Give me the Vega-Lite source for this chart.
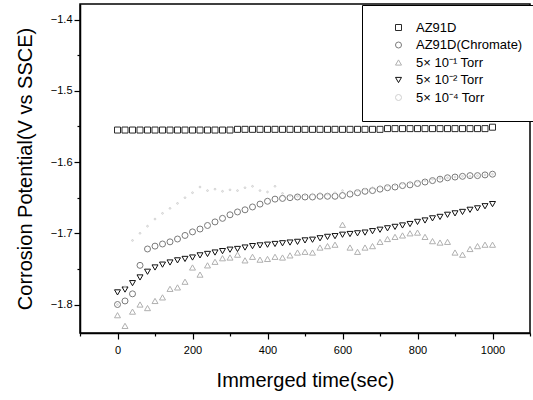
{
"$schema": "https://vega.github.io/schema/vega-lite/v6.json",
"width": 450, "height": 329,
"autosize": "none",
"padding": {"left": 80, "top": 4, "right": 3, "bottom": 67},
"background": "white",
"config": {"font": "Liberation Sans", "view": {"stroke": "black", "strokeWidth": 1.5},
  "legend": {"padding": 16, "rowPadding": 3.5, "symbolOffset": 14, "symbolSize": 36, "labelFontSize": 13, "labelColor": "black", "labelOffset": 11, "symbolStrokeWidth": 1, "strokeColor": "black", "fillColor": "white"}},
"data": {"values": [
{"s":"AZ91D","t":0,"v":-1.555},{"s":"AZ91D","t":20,"v":-1.555},{"s":"AZ91D","t":40,"v":-1.555},{"s":"AZ91D","t":60,"v":-1.555},{"s":"AZ91D","t":80,"v":-1.555},{"s":"AZ91D","t":100,"v":-1.555},{"s":"AZ91D","t":120,"v":-1.555},{"s":"AZ91D","t":140,"v":-1.555},{"s":"AZ91D","t":160,"v":-1.555},{"s":"AZ91D","t":180,"v":-1.555},{"s":"AZ91D","t":200,"v":-1.555},{"s":"AZ91D","t":220,"v":-1.555},{"s":"AZ91D","t":240,"v":-1.555},{"s":"AZ91D","t":260,"v":-1.555},{"s":"AZ91D","t":280,"v":-1.555},{"s":"AZ91D","t":300,"v":-1.555},{"s":"AZ91D","t":320,"v":-1.554},{"s":"AZ91D","t":340,"v":-1.554},{"s":"AZ91D","t":360,"v":-1.554},{"s":"AZ91D","t":380,"v":-1.554},{"s":"AZ91D","t":400,"v":-1.554},{"s":"AZ91D","t":420,"v":-1.554},{"s":"AZ91D","t":440,"v":-1.554},{"s":"AZ91D","t":460,"v":-1.554},{"s":"AZ91D","t":480,"v":-1.554},{"s":"AZ91D","t":500,"v":-1.554},{"s":"AZ91D","t":520,"v":-1.554},{"s":"AZ91D","t":540,"v":-1.554},{"s":"AZ91D","t":560,"v":-1.554},{"s":"AZ91D","t":580,"v":-1.554},{"s":"AZ91D","t":600,"v":-1.554},{"s":"AZ91D","t":620,"v":-1.554},{"s":"AZ91D","t":640,"v":-1.554},{"s":"AZ91D","t":660,"v":-1.554},{"s":"AZ91D","t":680,"v":-1.554},{"s":"AZ91D","t":700,"v":-1.554},{"s":"AZ91D","t":720,"v":-1.553},{"s":"AZ91D","t":740,"v":-1.553},{"s":"AZ91D","t":760,"v":-1.553},{"s":"AZ91D","t":780,"v":-1.553},{"s":"AZ91D","t":800,"v":-1.553},{"s":"AZ91D","t":820,"v":-1.553},{"s":"AZ91D","t":840,"v":-1.553},{"s":"AZ91D","t":860,"v":-1.553},{"s":"AZ91D","t":880,"v":-1.553},{"s":"AZ91D","t":900,"v":-1.553},{"s":"AZ91D","t":920,"v":-1.553},{"s":"AZ91D","t":940,"v":-1.553},{"s":"AZ91D","t":960,"v":-1.553},{"s":"AZ91D","t":980,"v":-1.553},{"s":"AZ91D","t":1000,"v":-1.551},
{"s":"AZ91D(Chromate)","t":0,"v":-1.8},{"s":"AZ91D(Chromate)","t":20,"v":-1.795},{"s":"AZ91D(Chromate)","t":40,"v":-1.785},{"s":"AZ91D(Chromate)","t":60,"v":-1.745},{"s":"AZ91D(Chromate)","t":80,"v":-1.722},{"s":"AZ91D(Chromate)","t":100,"v":-1.718},{"s":"AZ91D(Chromate)","t":120,"v":-1.715},{"s":"AZ91D(Chromate)","t":140,"v":-1.712},{"s":"AZ91D(Chromate)","t":160,"v":-1.708},{"s":"AZ91D(Chromate)","t":180,"v":-1.703},{"s":"AZ91D(Chromate)","t":200,"v":-1.698},{"s":"AZ91D(Chromate)","t":220,"v":-1.694},{"s":"AZ91D(Chromate)","t":240,"v":-1.689},{"s":"AZ91D(Chromate)","t":260,"v":-1.684},{"s":"AZ91D(Chromate)","t":280,"v":-1.679},{"s":"AZ91D(Chromate)","t":300,"v":-1.674},{"s":"AZ91D(Chromate)","t":320,"v":-1.67},{"s":"AZ91D(Chromate)","t":340,"v":-1.667},{"s":"AZ91D(Chromate)","t":360,"v":-1.663},{"s":"AZ91D(Chromate)","t":380,"v":-1.659},{"s":"AZ91D(Chromate)","t":400,"v":-1.655},{"s":"AZ91D(Chromate)","t":420,"v":-1.652},{"s":"AZ91D(Chromate)","t":440,"v":-1.651},{"s":"AZ91D(Chromate)","t":460,"v":-1.65},{"s":"AZ91D(Chromate)","t":480,"v":-1.649},{"s":"AZ91D(Chromate)","t":500,"v":-1.649},{"s":"AZ91D(Chromate)","t":520,"v":-1.649},{"s":"AZ91D(Chromate)","t":540,"v":-1.648},{"s":"AZ91D(Chromate)","t":560,"v":-1.648},{"s":"AZ91D(Chromate)","t":580,"v":-1.648},{"s":"AZ91D(Chromate)","t":600,"v":-1.647},{"s":"AZ91D(Chromate)","t":620,"v":-1.645},{"s":"AZ91D(Chromate)","t":640,"v":-1.643},{"s":"AZ91D(Chromate)","t":660,"v":-1.641},{"s":"AZ91D(Chromate)","t":680,"v":-1.64},{"s":"AZ91D(Chromate)","t":700,"v":-1.638},{"s":"AZ91D(Chromate)","t":720,"v":-1.636},{"s":"AZ91D(Chromate)","t":740,"v":-1.635},{"s":"AZ91D(Chromate)","t":760,"v":-1.633},{"s":"AZ91D(Chromate)","t":780,"v":-1.632},{"s":"AZ91D(Chromate)","t":800,"v":-1.63},{"s":"AZ91D(Chromate)","t":820,"v":-1.628},{"s":"AZ91D(Chromate)","t":840,"v":-1.626},{"s":"AZ91D(Chromate)","t":860,"v":-1.624},{"s":"AZ91D(Chromate)","t":880,"v":-1.622},{"s":"AZ91D(Chromate)","t":900,"v":-1.621},{"s":"AZ91D(Chromate)","t":920,"v":-1.62},{"s":"AZ91D(Chromate)","t":940,"v":-1.619},{"s":"AZ91D(Chromate)","t":960,"v":-1.619},{"s":"AZ91D(Chromate)","t":980,"v":-1.618},{"s":"AZ91D(Chromate)","t":1000,"v":-1.617},
{"s":"5× 10⁻¹ Torr","t":0,"v":-1.815},{"s":"5× 10⁻¹ Torr","t":20,"v":-1.83},{"s":"5× 10⁻¹ Torr","t":40,"v":-1.81},{"s":"5× 10⁻¹ Torr","t":60,"v":-1.8},{"s":"5× 10⁻¹ Torr","t":80,"v":-1.805},{"s":"5× 10⁻¹ Torr","t":100,"v":-1.795},{"s":"5× 10⁻¹ Torr","t":120,"v":-1.79},{"s":"5× 10⁻¹ Torr","t":140,"v":-1.778},{"s":"5× 10⁻¹ Torr","t":160,"v":-1.776},{"s":"5× 10⁻¹ Torr","t":180,"v":-1.768},{"s":"5× 10⁻¹ Torr","t":200,"v":-1.748},{"s":"5× 10⁻¹ Torr","t":220,"v":-1.758},{"s":"5× 10⁻¹ Torr","t":240,"v":-1.745},{"s":"5× 10⁻¹ Torr","t":260,"v":-1.74},{"s":"5× 10⁻¹ Torr","t":280,"v":-1.735},{"s":"5× 10⁻¹ Torr","t":300,"v":-1.734},{"s":"5× 10⁻¹ Torr","t":320,"v":-1.73},{"s":"5× 10⁻¹ Torr","t":340,"v":-1.738},{"s":"5× 10⁻¹ Torr","t":360,"v":-1.733},{"s":"5× 10⁻¹ Torr","t":380,"v":-1.737},{"s":"5× 10⁻¹ Torr","t":400,"v":-1.736},{"s":"5× 10⁻¹ Torr","t":420,"v":-1.733},{"s":"5× 10⁻¹ Torr","t":440,"v":-1.734},{"s":"5× 10⁻¹ Torr","t":460,"v":-1.731},{"s":"5× 10⁻¹ Torr","t":480,"v":-1.727},{"s":"5× 10⁻¹ Torr","t":500,"v":-1.726},{"s":"5× 10⁻¹ Torr","t":520,"v":-1.727},{"s":"5× 10⁻¹ Torr","t":540,"v":-1.72},{"s":"5× 10⁻¹ Torr","t":560,"v":-1.718},{"s":"5× 10⁻¹ Torr","t":580,"v":-1.716},{"s":"5× 10⁻¹ Torr","t":600,"v":-1.688},{"s":"5× 10⁻¹ Torr","t":620,"v":-1.72},{"s":"5× 10⁻¹ Torr","t":640,"v":-1.726},{"s":"5× 10⁻¹ Torr","t":660,"v":-1.72},{"s":"5× 10⁻¹ Torr","t":680,"v":-1.718},{"s":"5× 10⁻¹ Torr","t":700,"v":-1.712},{"s":"5× 10⁻¹ Torr","t":720,"v":-1.708},{"s":"5× 10⁻¹ Torr","t":740,"v":-1.705},{"s":"5× 10⁻¹ Torr","t":760,"v":-1.703},{"s":"5× 10⁻¹ Torr","t":780,"v":-1.7},{"s":"5× 10⁻¹ Torr","t":800,"v":-1.699},{"s":"5× 10⁻¹ Torr","t":820,"v":-1.705},{"s":"5× 10⁻¹ Torr","t":840,"v":-1.711},{"s":"5× 10⁻¹ Torr","t":860,"v":-1.713},{"s":"5× 10⁻¹ Torr","t":880,"v":-1.712},{"s":"5× 10⁻¹ Torr","t":900,"v":-1.727},{"s":"5× 10⁻¹ Torr","t":920,"v":-1.73},{"s":"5× 10⁻¹ Torr","t":940,"v":-1.722},{"s":"5× 10⁻¹ Torr","t":960,"v":-1.718},{"s":"5× 10⁻¹ Torr","t":980,"v":-1.716},{"s":"5× 10⁻¹ Torr","t":1000,"v":-1.716},
{"s":"5× 10⁻² Torr","t":0,"v":-1.783},{"s":"5× 10⁻² Torr","t":20,"v":-1.779},{"s":"5× 10⁻² Torr","t":40,"v":-1.77},{"s":"5× 10⁻² Torr","t":60,"v":-1.762},{"s":"5× 10⁻² Torr","t":80,"v":-1.754},{"s":"5× 10⁻² Torr","t":100,"v":-1.748},{"s":"5× 10⁻² Torr","t":120,"v":-1.744},{"s":"5× 10⁻² Torr","t":140,"v":-1.741},{"s":"5× 10⁻² Torr","t":160,"v":-1.738},{"s":"5× 10⁻² Torr","t":180,"v":-1.736},{"s":"5× 10⁻² Torr","t":200,"v":-1.734},{"s":"5× 10⁻² Torr","t":220,"v":-1.731},{"s":"5× 10⁻² Torr","t":240,"v":-1.729},{"s":"5× 10⁻² Torr","t":260,"v":-1.727},{"s":"5× 10⁻² Torr","t":280,"v":-1.725},{"s":"5× 10⁻² Torr","t":300,"v":-1.723},{"s":"5× 10⁻² Torr","t":320,"v":-1.722},{"s":"5× 10⁻² Torr","t":340,"v":-1.72},{"s":"5× 10⁻² Torr","t":360,"v":-1.718},{"s":"5× 10⁻² Torr","t":380,"v":-1.717},{"s":"5× 10⁻² Torr","t":400,"v":-1.716},{"s":"5× 10⁻² Torr","t":420,"v":-1.715},{"s":"5× 10⁻² Torr","t":440,"v":-1.714},{"s":"5× 10⁻² Torr","t":460,"v":-1.713},{"s":"5× 10⁻² Torr","t":480,"v":-1.712},{"s":"5× 10⁻² Torr","t":500,"v":-1.71},{"s":"5× 10⁻² Torr","t":520,"v":-1.709},{"s":"5× 10⁻² Torr","t":540,"v":-1.707},{"s":"5× 10⁻² Torr","t":560,"v":-1.705},{"s":"5× 10⁻² Torr","t":580,"v":-1.704},{"s":"5× 10⁻² Torr","t":600,"v":-1.702},{"s":"5× 10⁻² Torr","t":620,"v":-1.701},{"s":"5× 10⁻² Torr","t":640,"v":-1.7},{"s":"5× 10⁻² Torr","t":660,"v":-1.699},{"s":"5× 10⁻² Torr","t":680,"v":-1.697},{"s":"5× 10⁻² Torr","t":700,"v":-1.695},{"s":"5× 10⁻² Torr","t":720,"v":-1.693},{"s":"5× 10⁻² Torr","t":740,"v":-1.691},{"s":"5× 10⁻² Torr","t":760,"v":-1.689},{"s":"5× 10⁻² Torr","t":780,"v":-1.687},{"s":"5× 10⁻² Torr","t":800,"v":-1.684},{"s":"5× 10⁻² Torr","t":820,"v":-1.682},{"s":"5× 10⁻² Torr","t":840,"v":-1.679},{"s":"5× 10⁻² Torr","t":860,"v":-1.677},{"s":"5× 10⁻² Torr","t":880,"v":-1.674},{"s":"5× 10⁻² Torr","t":900,"v":-1.672},{"s":"5× 10⁻² Torr","t":920,"v":-1.67},{"s":"5× 10⁻² Torr","t":940,"v":-1.667},{"s":"5× 10⁻² Torr","t":960,"v":-1.665},{"s":"5× 10⁻² Torr","t":980,"v":-1.662},{"s":"5× 10⁻² Torr","t":1000,"v":-1.659},
{"s":"5× 10⁻⁴ Torr","t":0,"v":-1.8},{"s":"5× 10⁻⁴ Torr","t":20,"v":-1.775},{"s":"5× 10⁻⁴ Torr","t":40,"v":-1.71},{"s":"5× 10⁻⁴ Torr","t":60,"v":-1.7},{"s":"5× 10⁻⁴ Torr","t":80,"v":-1.69},{"s":"5× 10⁻⁴ Torr","t":100,"v":-1.68},{"s":"5× 10⁻⁴ Torr","t":120,"v":-1.672},{"s":"5× 10⁻⁴ Torr","t":140,"v":-1.665},{"s":"5× 10⁻⁴ Torr","t":160,"v":-1.658},{"s":"5× 10⁻⁴ Torr","t":180,"v":-1.65},{"s":"5× 10⁻⁴ Torr","t":200,"v":-1.643},{"s":"5× 10⁻⁴ Torr","t":220,"v":-1.635},{"s":"5× 10⁻⁴ Torr","t":240,"v":-1.64},{"s":"5× 10⁻⁴ Torr","t":260,"v":-1.638},{"s":"5× 10⁻⁴ Torr","t":280,"v":-1.641},{"s":"5× 10⁻⁴ Torr","t":300,"v":-1.639},{"s":"5× 10⁻⁴ Torr","t":320,"v":-1.64},{"s":"5× 10⁻⁴ Torr","t":340,"v":-1.636},{"s":"5× 10⁻⁴ Torr","t":360,"v":-1.634},{"s":"5× 10⁻⁴ Torr","t":380,"v":-1.64},{"s":"5× 10⁻⁴ Torr","t":400,"v":-1.642},{"s":"5× 10⁻⁴ Torr","t":420,"v":-1.634},{"s":"5× 10⁻⁴ Torr","t":440,"v":-1.644},{"s":"5× 10⁻⁴ Torr","t":460,"v":-1.647},{"s":"5× 10⁻⁴ Torr","t":480,"v":-1.648},{"s":"5× 10⁻⁴ Torr","t":500,"v":-1.646},{"s":"5× 10⁻⁴ Torr","t":520,"v":-1.645},{"s":"5× 10⁻⁴ Torr","t":540,"v":-1.644},{"s":"5× 10⁻⁴ Torr","t":560,"v":-1.645},{"s":"5× 10⁻⁴ Torr","t":580,"v":-1.643},{"s":"5× 10⁻⁴ Torr","t":600,"v":-1.64},{"s":"5× 10⁻⁴ Torr","t":620,"v":-1.641},{"s":"5× 10⁻⁴ Torr","t":640,"v":-1.64},{"s":"5× 10⁻⁴ Torr","t":660,"v":-1.638},{"s":"5× 10⁻⁴ Torr","t":680,"v":-1.636},{"s":"5× 10⁻⁴ Torr","t":700,"v":-1.634},{"s":"5× 10⁻⁴ Torr","t":720,"v":-1.633},{"s":"5× 10⁻⁴ Torr","t":740,"v":-1.632},{"s":"5× 10⁻⁴ Torr","t":760,"v":-1.63},{"s":"5× 10⁻⁴ Torr","t":780,"v":-1.629},{"s":"5× 10⁻⁴ Torr","t":800,"v":-1.627},{"s":"5× 10⁻⁴ Torr","t":820,"v":-1.626},{"s":"5× 10⁻⁴ Torr","t":840,"v":-1.624},{"s":"5× 10⁻⁴ Torr","t":860,"v":-1.623},{"s":"5× 10⁻⁴ Torr","t":880,"v":-1.622},{"s":"5× 10⁻⁴ Torr","t":900,"v":-1.621},{"s":"5× 10⁻⁴ Torr","t":920,"v":-1.62},{"s":"5× 10⁻⁴ Torr","t":940,"v":-1.62},{"s":"5× 10⁻⁴ Torr","t":960,"v":-1.619},{"s":"5× 10⁻⁴ Torr","t":980,"v":-1.618},{"s":"5× 10⁻⁴ Torr","t":1000,"v":-1.617}
]},
"encoding": {
  "x": {"field": "t", "type": "quantitative",
    "scale": {"domain": [-100, 1100], "nice": false, "zero": false},
    "axis": {"values": [-100,0,100,200,300,400,500,600,700,800,900,1000,1100], "format": "d",
      "labelExpr": "datum.value % 200 === 0 ? datum.label : ''",
      "tickSize": {"condition": {"test": "datum.value % 200 === 0", "value": 6}, "value": 3},
      "grid": false, "domainColor": "black", "domainWidth": 1.5, "tickColor": "black", "tickWidth": 1.2,
      "labelColor": "black", "labelFontSize": 11, "labelPadding": 5, "labelFlush": false,
      "title": "Immerged time(sec)", "titleFontSize": 20, "titleFontWeight": "normal", "titleColor": "black", "titlePadding": 15}},
  "y": {"field": "v", "type": "quantitative",
    "scale": {"domain": [-1.84, -1.378], "nice": false, "zero": false},
    "axis": {"values": [-1.8,-1.75,-1.7,-1.65,-1.6,-1.55,-1.5,-1.45,-1.4],
      "labelExpr": "abs(round(datum.value*100)) % 10 === 0 ? format(datum.value, '.1f') : ''",
      "tickSize": {"condition": {"test": "abs(round(datum.value*100)) % 10 === 0", "value": 6}, "value": 3},
      "grid": false, "domainColor": "black", "domainWidth": 1.5, "tickColor": "black", "tickWidth": 1.2,
      "labelColor": "black", "labelFontSize": 11, "labelPadding": 2, "labelFlush": false,
      "title": "Corrosion Potential(V vs SSCE)", "titleFontSize": 20, "titleFontWeight": "normal", "titleColor": "black", "titlePadding": 15}},
  "color": {"field": "s", "type": "nominal",
    "scale": {"domain": ["AZ91D", "AZ91D(Chromate)", "5× 10⁻¹ Torr", "5× 10⁻² Torr", "5× 10⁻⁴ Torr"],
      "range": ["#2a2a2a", "#7a7a7a", "#b0b0b0", "#111111", "#cfcfcf"]},
    "legend": {"title": null, "orient": "none", "legendX": 282, "legendY": 1}},
  "shape": {"field": "s", "type": "nominal",
    "scale": {"domain": ["AZ91D", "AZ91D(Chromate)", "5× 10⁻¹ Torr", "5× 10⁻² Torr", "5× 10⁻⁴ Torr"],
      "range": ["square", "circle", "triangle-up", "triangle-down", "circle"]},
    "legend": {"title": null, "orient": "none", "legendX": 282, "legendY": 1}}
},
"layer": [
  {"transform": [{"filter": "datum.s !== '5× 10⁻⁴ Torr'"}],
   "mark": {"type": "point", "filled": false, "strokeWidth": 1, "opacity": 1, "size": 36}},
  {"transform": [{"filter": "datum.s === '5× 10⁻⁴ Torr'"}],
   "mark": {"type": "point", "filled": false, "strokeWidth": 1, "opacity": 1, "size": 3}}
]
}
